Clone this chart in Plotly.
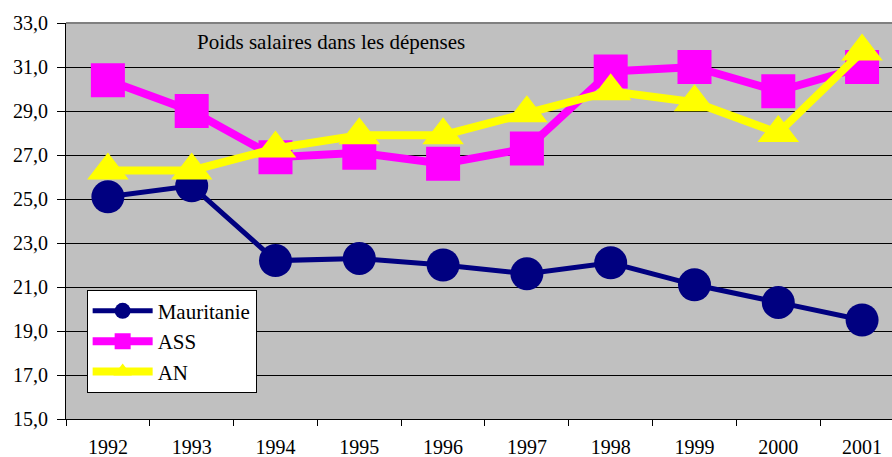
import plotly.graph_objects as go

years = ["1992", "1993", "1994", "1995", "1996", "1997", "1998", "1999", "2000", "2001"]
mauritanie = [25.1, 25.6, 22.2, 22.3, 22.0, 21.6, 22.1, 21.1, 20.3, 19.5]
ass = [30.4, 29.0, 26.9, 27.1, 26.6, 27.3, 30.8, 31.0, 29.9, 31.0]
an = [26.3, 26.3, 27.3, 27.9, 27.9, 28.9, 29.9, 29.4, 28.0, 31.7]
y_ticks = [15, 17, 19, 21, 23, 25, 27, 29, 31, 33]

FONT = "Times New Roman, Liberation Serif, serif"

fig = go.Figure()
fig.add_trace(go.Scatter(x=years, y=mauritanie, name="Mauritanie", mode="lines+markers",
                         line=dict(color="#000080", width=5),
                         marker=dict(symbol="circle", size=33, color="#000080", line=dict(width=0))))
fig.add_trace(go.Scatter(x=years, y=ass, name="ASS", mode="lines+markers",
                         line=dict(color="#FF00FF", width=8),
                         marker=dict(symbol="square", size=34, color="#FF00FF", line=dict(width=0))))
fig.add_trace(go.Scatter(x=years, y=an, name="AN", mode="lines+markers",
                         line=dict(color="#FFFF00", width=8),
                         marker=dict(symbol="triangle-up", size=36, color="#FFFF00", line=dict(width=0))))

fig.update_layout(
    width=892, height=457,
    margin=dict(l=66, r=0, t=23, b=38, autoexpand=False),
    paper_bgcolor="white",
    plot_bgcolor="#C0C0C0",
    separators=", ",
    font=dict(family=FONT, size=20, color="black"),
    showlegend=True,
    legend=dict(x=0.025, y=0.3265, xanchor="left", yanchor="top",
                bgcolor="white", bordercolor="black", borderwidth=1,
                font=dict(family=FONT, size=21, color="black"),
                itemwidth=60),
    annotations=[dict(text="Poids salaires dans les dépenses", xref="paper", yref="paper",
                      x=0.156, y=0.953, xanchor="left", yanchor="middle", showarrow=False,
                      font=dict(family=FONT, size=21, color="black"))],
    shapes=[dict(type="line", xref="paper", yref="paper", x0=0, x1=1, y0=1, y1=1,
                 line=dict(color="#808080", width=2), layer="above")],
)
fig.update_xaxes(type="category", range=[-0.5, 9.357], tickson="boundaries",
                 ticks="outside", ticklen=6, tickcolor="black", tickwidth=1,
                 showline=True, linecolor="black", linewidth=1, showgrid=False,
                 automargin=False,
                 ticklabelstandoff=10, tickfont=dict(family=FONT, size=20))
fig.update_yaxes(range=[15, 33], tickvals=y_ticks, tickformat=".1f",
                 ticks="outside", ticklen=8, tickcolor="black", tickwidth=1,
                 showline=True, linecolor="black", linewidth=1,
                 showgrid=True, gridcolor="black", gridwidth=1, zeroline=False,
                 automargin=False,
                 ticklabelstandoff=5, tickfont=dict(family=FONT, size=20))

fig.write_html("out.html", config={"displayModeBar": False})

# remove the browser's default body margin so the figure sits at the page corner
with open("out.html", encoding="utf-8") as f:
    html = f.read()
html = html.replace("<body>", '<body style="margin:0;padding:0;">', 1)
html = html.replace("<head>", "<head><style>html,body{margin:0;padding:0;}</style>", 1)
with open("out.html", "w", encoding="utf-8") as f:
    f.write(html)
